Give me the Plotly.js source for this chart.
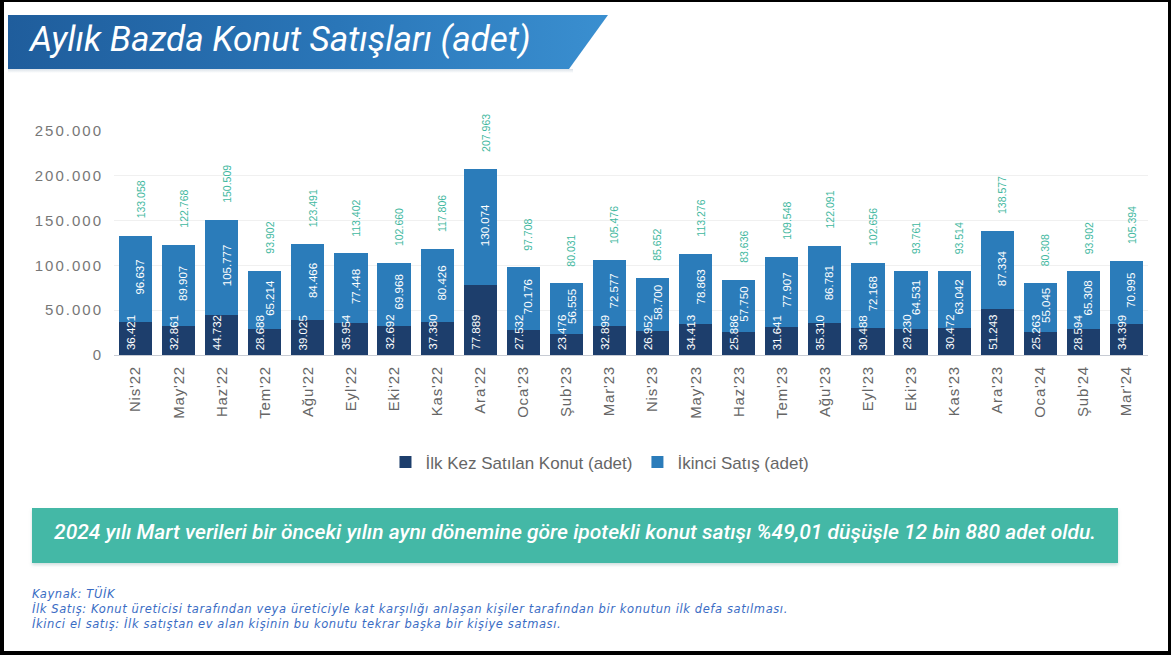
<!DOCTYPE html>
<html>
<head>
<meta charset="utf-8">
<script src="https://cdn.plot.ly/plotly-3.0.1.min.js"></script>
<style>
  html, body { margin:0; padding:0; background:#fff; }
  #page { position:relative; width:1171px; height:655px; overflow:hidden; background:#fff; }
  #frame { position:absolute; left:0; top:0; width:1171px; height:655px; box-sizing:border-box;
           border-left:4px solid #000; border-top:2px solid #000; border-right:3px solid #000; border-bottom:4px solid #000; z-index:5; pointer-events:none; }
  #banner { position:absolute; left:8px; top:15px; width:600px; height:54px;
            background:linear-gradient(90deg,#1f5d9c 0%,#2a76b8 55%,#3a8fd0 100%);
            clip-path:polygon(0 0,100% 0,93.5% 100%,0 100%); z-index:2; }
  #bannerShadow { position:absolute; left:8px; top:69px; width:565px; height:4px;
            background:linear-gradient(180deg,rgba(150,170,190,0.35),rgba(255,255,255,0)); z-index:2; }
  #title { position:absolute; left:30px; top:20px; font-family:Roboto,"Liberation Sans",sans-serif; font-style:italic;
           font-size:35px; line-height:40px; color:#fff; z-index:3; white-space:nowrap; letter-spacing:0px; }
  #chart { position:absolute; left:0; top:0; width:1171px; height:655px; z-index:1; }
  #note { position:absolute; left:32px; top:508px; width:1086px; height:55px; background:#44b8a6;
          box-shadow:0 2px 3px rgba(120,160,160,0.35); z-index:2; }
  #noteText { position:absolute; left:0; top:12px; width:1086px; text-align:center; font-family:Roboto,"Liberation Sans",sans-serif;
              font-style:italic; font-weight:500; font-size:21px; color:#fff; white-space:nowrap; }
  .foot { position:absolute; left:32px; font-family:"DejaVu Sans",Verdana,sans-serif; font-style:italic; font-size:11.5px;
          letter-spacing:0.6px; color:#3a6cc4; white-space:nowrap; z-index:2; }
  #chart .ytick text { letter-spacing:2px; }
  #chart .xtick text { letter-spacing:0.8px; }
</style>
</head>
<body>
<div id="page">
  <div id="chart"></div>
  <div id="banner"></div>
  <div id="bannerShadow"></div>
  <div id="title">Aylık Bazda Konut Satışları (adet)</div>
  <div id="note"><div id="noteText">2024 yılı Mart verileri bir önceki yılın aynı dönemine göre ipotekli konut satışı %49,01 düşüşle 12 bin 880 adet oldu.</div></div>
  <div class="foot" style="top:587px">Kaynak: TÜİK</div>
  <div class="foot" style="top:602px">İlk Satış: Konut üreticisi tarafından veya üreticiyle kat karşılığı anlaşan kişiler tarafından bir konutun ilk defa satılması.</div>
  <div class="foot" style="top:617px">İkinci el satış: İlk satıştan ev alan kişinin bu konutu tekrar başka bir kişiye satması.</div>
  <div id="frame"></div>
</div>
<script>
const months = ["Nis'22","May'22","Haz'22","Tem'22","Ağu'22","Eyl'22","Eki'22","Kas'22","Ara'22",
  "Oca'23","Şub'23","Mar'23","Nis'23","May'23","Haz'23","Tem'23","Ağu'23","Eyl'23","Eki'23","Kas'23","Ara'23",
  "Oca'24","Şub'24","Mar'24"];
const firstSales = [36421,32861,44732,28688,39025,35954,32692,37380,77889,
  27532,23476,32899,26952,34413,25886,31641,35310,30488,29230,30472,51243,
  25263,28594,34399];
const secondSales = [96637,89907,105777,65214,84466,77448,69968,80426,130074,
  70176,56555,72577,58700,78863,57750,77907,86781,72168,64531,63042,87334,
  55045,65308,70995];
const totals = [133058,122768,150509,93902,123491,113402,102660,117806,207963,
  97708,80031,105476,85652,113276,83636,109548,122091,102656,93761,93514,138577,
  80308,93902,105394];
const seriesNames = ["İlk Kez Satılan Konut (adet)", "İkinci Satış (adet)"];

const fmt = n => String(n).replace(/\B(?=(\d{3})+(?!\d))/g, '.');
const cDark = '#1d3e6c', cLight = '#2b7cba', cTotal = '#3fb8a0';
const fontMain = 'Liberation Sans, Arial, sans-serif';

const traces = [
  { type:'bar', name:seriesNames[0], x:months, y:firstSales, marker:{color:cDark}, hoverinfo:'skip' },
  { type:'bar', name:seriesNames[1], x:months, y:secondSales, marker:{color:cLight}, hoverinfo:'skip' }
];

const annotations = [];
months.forEach((m,i) => {
  annotations.push({ x:m, y:0, xref:'x', yref:'y', text:fmt(firstSales[i]), showarrow:false, textangle:-90,
    yanchor:'bottom', xanchor:'center', xshift:-5, yshift:3, font:{family:fontMain, size:11.5, color:'#ffffff'} });
  annotations.push({ x:m, y:firstSales[i] + secondSales[i]/2, xref:'x', yref:'y', text:fmt(secondSales[i]), showarrow:false, textangle:-90,
    yanchor:'middle', xanchor:'center', xshift:5, yshift:2, font:{family:fontMain, size:11.5, color:'#ffffff'} });
  annotations.push({ x:m, y:totals[i], xref:'x', yref:'y', text:fmt(totals[i]), showarrow:false, textangle:-90,
    yanchor:'bottom', xanchor:'center', xshift:5, yshift:15, font:{family:fontMain, size:10.5, color:cTotal} });
});

const layout = {
  width:1171, height:655,
  margin:{l:114, r:23, t:131, b:300, pad:0},
  paper_bgcolor:'rgba(0,0,0,0)', plot_bgcolor:'rgba(0,0,0,0)',
  separators:',.',
  barmode:'stack', bargap:0.23,
  showlegend:true,
  legend:{orientation:'h', x:0.47, xanchor:'center', y:-0.48, yanchor:'middle',
    font:{family:fontMain, size:17, color:'#666'}, itemwidth:30, traceorder:'normal'},
  xaxis:{ type:'category', tickangle:-90, tickfont:{family:fontMain, size:15, color:'#666'},
    showgrid:false, showline:true, linecolor:'#c8ccd4', linewidth:1, ticks:'', automargin:false,
    ticklabelstandoff:4 },
  yaxis:{ range:[0,250000], dtick:50000, tickformat:',d', tickfont:{family:fontMain, size:15, color:'#777'},
    showgrid:true, gridcolor:'#f0f0f0', gridwidth:1, zeroline:false, showline:false, ticks:'',
    ticklabelstandoff:10, automargin:false },
  annotations: annotations
};
Plotly.newPlot('chart', traces, layout, {displayModeBar:false, staticPlot:true});
</script>
</body>
</html>
